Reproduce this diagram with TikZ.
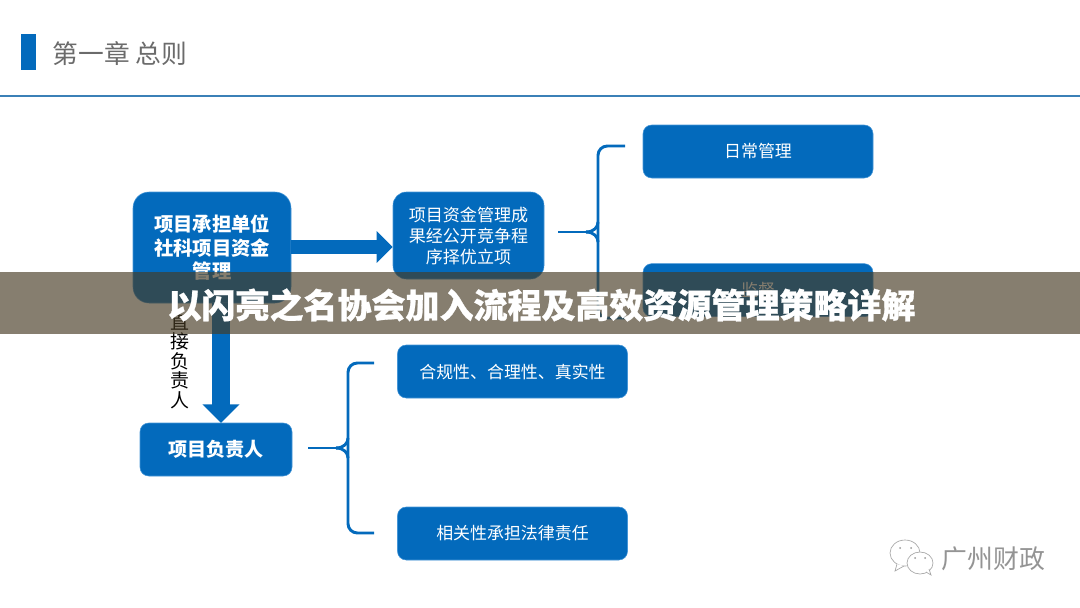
\documentclass[tikz,border=0pt]{standalone}
\usepackage{fontspec}
\setmainfont{Noto Sans CJK SC}
\newfontfamily\titlefont[BoldFeatures={FakeBold=0.8}]{Noto Sans CJK SC}
\usetikzlibrary{arrows.meta}

\definecolor{boxblue}{RGB}{3,106,188}
\definecolor{edgeblue}{RGB}{70,150,215}
\definecolor{bandgrey}{RGB}{71,59,36}

\tikzstyle{box} = [rectangle, draw = edgeblue, fill = boxblue, text = white, align = center, inner sep = 0pt]
\tikzstyle{item} = [box, minimum width = 172.5pt, minimum height = 39.75pt, rounded corners = 6.5pt, font = \fontsize{12.7pt}{15pt}\selectfont]
\tikzstyle{brace} = [draw = boxblue, line width = 2.2pt, rounded corners = 7pt]
\tikzstyle{fat} = [draw = boxblue, -{Triangle[length = 12pt, width = 23pt]}]
\tikzstyle{bubble} = [draw = black!35, fill = white, line width = 0.5pt]

\begin{document}
\begin{tikzpicture}
    [x = 0.75pt, y = -0.75pt]
  \useasboundingbox (0,0) rectangle (1080,607);
  % heading
  \fill[boxblue] (21,34) rectangle (36,70);
  \node[text = black!58, font = \fontsize{19.3pt}{22pt}\selectfont, anchor = west, inner sep = 0pt] (heading) at (52.5,54) {第一章 总则};
  \draw[edgeblue!85!black, line width = 1.5pt] (0,95.5) -- (1080,95.5);
  % boxes
  \node[box, minimum width = 118.5pt, minimum height = 83.25pt, rounded corners = 12pt, font = \bfseries\fontsize{14.5pt}{17.6pt}\selectfont] (owner) at (212,247.5) {项目承担单位\\社科项目资金\\管理};
  \node[box, minimum width = 113.25pt, minimum height = 65.25pt, rounded corners = 10pt, font = \fontsize{12.8pt}{15.75pt}\selectfont] (funds) at (468.5,235.5) {项目资金管理成\\果经公开竞争程\\序择优立项};
  \node[item] (daily) at (758,151.5) {日常管理};
  \node[item, below of = daily, node distance = 104pt] (watch) {监督};
  \node[item] (legal) at (512.5,371.5) {合规性、合理性、真实性};
  \node[item, below of = legal, node distance = 121.5pt] (duty) {相关性承担法律责任};
  \node[box, minimum width = 114pt, minimum height = 39.75pt, rounded corners = 6.5pt, font = \bfseries\fontsize{14.3pt}{17pt}\selectfont] (head) at (216,449.5) {项目负责人};
  % fat arrows
  \coordinate (down1) at (221,303);
  \coordinate (down2) at (221,423);
  \draw[fat, line width = 10.5pt] (owner.east |- 0,247) -- (funds.west |- 0,247);
  \draw[fat, line width = 13.5pt, -{Triangle[length = 14pt, width = 27pt]}] (down1) -- (down2);
  \node[font = \fontsize{14.2pt}{14.6pt}\selectfont, align = center, inner sep = 0pt] (direct) at (180,361) {直\\接\\负\\责\\人};
  % upper brace
  \coordinate (tail1) at (558,232);
  \coordinate (tip1) at (598,232);
  \coordinate (top1) at (625,146);
  \coordinate (bot1) at (625,318);
  \draw[brace] (top1) -| (tip1) |- (bot1);
  \draw[brace] (tail1) -- +(30,0);
  \draw[brace] (tip1) ++(-12,0) .. controls +(8,0) and +(0,5) .. ++(12,-10);
  \draw[brace] (tip1) ++(-12,0) .. controls +(8,0) and +(0,-5) .. ++(12,10);
  % lower brace
  \coordinate (tail2) at (308,448);
  \coordinate (tip2) at (348,448);
  \coordinate (top2) at (374,363);
  \coordinate (bot2) at (374,533);
  \draw[brace] (top2) -| (tip2) |- (bot2);
  \draw[brace] (tail2) -- +(30,0);
  \draw[brace] (tip2) ++(-12,0) .. controls +(8,0) and +(0,5) .. ++(12,-10);
  \draw[brace] (tip2) ++(-12,0) .. controls +(8,0) and +(0,-5) .. ++(12,10);
  % watermark
  \draw[bubble] (905,553) ellipse (15 and 13);
  \draw[bubble] (897,564) -- (895,571) -- (904,566);
  \draw[bubble] (920,563) ellipse (13 and 11);
  \draw[bubble] (926,572) -- (931,575) -- (929,569);
  \fill[black!40] (900,548) circle (1) (911,548) circle (1) (915,558) circle (1) (925,558) circle (1);
  \node[text = black!42, font = \fontsize{19.4pt}{22pt}\selectfont, anchor = west, inner sep = 0pt] (brand) at (941.5,559) {广州财政};
  % band and title
  \fill[bandgrey, fill opacity = 0.66] (0,272) rectangle (1080,334);
  \node[text = white, font = \titlefont\bfseries\fontsize{25.5pt}{28pt}\selectfont, inner sep = 0pt] (title) at (541.5,305) {以闪亮之名协会加入流程及高效资源管理策略详解};
\end{tikzpicture}
\end{document}
